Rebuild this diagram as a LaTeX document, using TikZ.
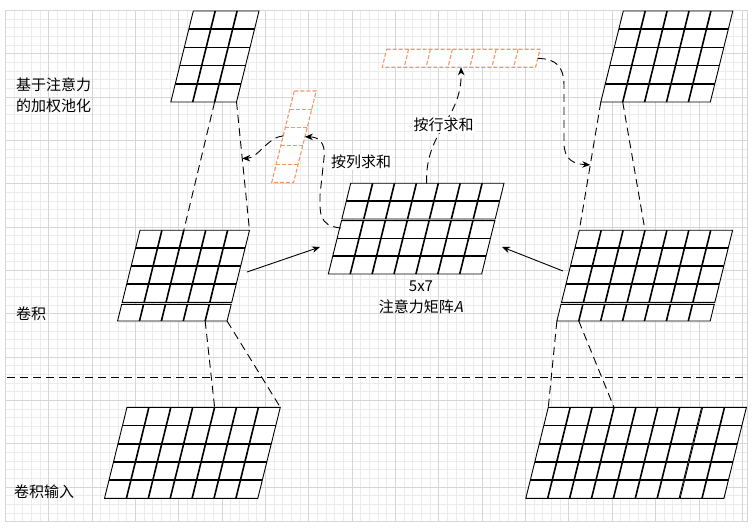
\documentclass[tikz,border=0pt]{standalone}
\usepackage{fontspec}
\setmainfont{Noto Sans CJK SC}
\newfontfamily\slantfont[FakeSlant=0.2]{Noto Sans CJK SC}
\usetikzlibrary{arrows.meta, calc}

\definecolor{gridminor}{RGB}{236,236,236}
\definecolor{gridmajor}{RGB}{214,214,214}
\definecolor{vecorange}{RGB}{245,150,100}

\tikzset{
  matedge/.style={line width=0.9pt},
  matinner/.style={line width=1.6pt},
  vecedge/.style={vecorange, line width=1.1pt, dash pattern=on 4pt off 2pt},
  vecinner/.style={vecedge},
  link/.style={line width=0.9pt, dash pattern=on 8pt off 5pt},
  flow/.style={line width=0.9pt, -{Stealth[length=8pt,width=6.5pt]}},
  lbl/.style={inner sep=0pt, font=\fontsize{15}{21}\selectfont},
}

% #1 look (mat/vec), #2 name, #3,#4 top-left corner, #5 columns, #6 rows, #7 row height
\newcommand{\matgrid}[7][mat]{%
  \begin{scope}[shift={(#3,#4)}, xslant=0.247]
    \fill[white] (0,0) -- (#5*21.9,0) -- (#5*21.9,#6*#7) -- (0,#6*#7) -- cycle;
    \foreach \r in {1,...,#6}{\ifnum\r<#6 \draw[#1inner] (0,\r*#7) -- (#5*21.9,\r*#7);\fi}
    \foreach \c in {0,...,#5}{%
      \ifnum\c>0 \ifnum\c<#5 \draw[#1inner] (\c*21.9,0) -- (\c*21.9,#6*#7);\fi\fi
      \coordinate (#2-t\c) at (\c*21.9,0);
      \coordinate (#2-b\c) at (\c*21.9,#6*#7);}
    \draw[#1edge] (0,0) -- (#5*21.9,0) -- (#5*21.9,#6*#7) -- (0,#6*#7) -- cycle;
  \end{scope}}

\begin{document}
\begin{tikzpicture}[x=1pt, y=-1pt]
  \useasboundingbox (0,0) rectangle (756,532);
  % background grid
  \begin{scope}
    \clip (5.3,10.3) rectangle (747.3,521);
    \foreach \i in {0,...,86} \draw[gridminor, line width=0.8pt] (5.3+\i*8.67,10.3) -- ++(0,511);
    \foreach \j in {0,...,59} \draw[gridminor, line width=0.8pt] (5.3,10.3+\j*8.67) -- ++(742,0);
    \foreach \i in {0,5,...,85} \draw[gridmajor, line width=0.8pt] (5.3+\i*8.67,10.3) -- ++(0,511);
    \foreach \j in {0,5,...,55} \draw[gridmajor, line width=0.8pt] (5.3,10.3+\j*8.67) -- ++(742,0);
  \end{scope}
  \draw[gridmajor, line width=0.8pt] (5.3,10.3) rectangle (747.3,521);

  % matrices
  \matgrid{poolL}{193.3}{11}{3}{5}{18.2}
  \matgrid{poolR}{623.3}{11}{5}{5}{18.2}
  \matgrid{convL}{140}{230.3}{5}{4}{18}
  \matgrid{convLb}{121.7}{304.3}{5}{1}{16.7}
  \matgrid{convR}{579.3}{230.3}{7}{4}{18}
  \matgrid{convRb}{561}{304.3}{7}{1}{16.7}
  \matgrid{attn}{350.7}{183.3}{7}{2}{17.85}
  \matgrid{attnb}{341.5}{220.7}{7}{3}{17.77}
  \matgrid{inL}{127}{407.3}{7}{5}{18.2}
  \matgrid{inR}{548.3}{407.3}{7}{5}{18.2}
  \matgrid{inRb}{702.6}{407.3}{2}{5}{18.2}
  \matgrid[vec]{colsum}{294.3}{91}{1}{5}{18.3}
  \matgrid[vec]{rowsum}{386.7}{49.3}{7}{1}{18}

  % receptive fields
  \draw[link] (poolL-b2) -- (convL-t2);
  \draw[link] (poolL-b3) -- (convL-t5);
  \draw[link] (convLb-b4) -- (inL-t4);
  \draw[link] (convLb-b5) -- (inL-t7);
  \draw[link] (poolR-b0) -- (convR-t0);
  \draw[link] (poolR-b1) -- (convR-t3);
  \draw[link] (convRb-b0) -- (inR-t0);
  \draw[link] (convRb-b1) -- (inR-t3);
  \coordinate (sepL) at (7,377.3);
  \coordinate (sepR) at (746,377.3);
  \draw[link] (sepL) -- (sepR);

  % conv -> attention
  \coordinate (convL-out) at (247,272);
  \coordinate (attn-inL) at (320,247);
  \draw[flow] (convL-out) -- (attn-inL);
  \coordinate (convR-out) at (563,271);
  \coordinate (attn-inR) at (502,247);
  \draw[flow] (convR-out) -- (attn-inR);

  % pooling arrows
  \coordinate (colstart) at (341,228);
  \draw[link, -{Stealth[length=8pt,width=6.5pt]}] (colstart)
    .. controls (318,226) and (320,212) .. (320,195) -- (324,158)
    .. controls (326,142) and (318,137) .. ($(colsum-t1)!0.5!(colsum-b1)$);
  \draw[link, -{Stealth[length=8pt,width=6.5pt]}] ($(colsum-t0)!0.49!(colsum-b0)$)
    .. controls (268,137) and (258,158) .. ($(poolL-b3)!0.44!(convL-t5)$);
  \draw[link, -{Stealth[length=8pt,width=6.5pt]}] ($(rowsum-t7)!0.5!(rowsum-b7)$)
    .. controls (556,59) and (564,66) .. (564,86) -- (564,143)
    .. controls (564,160) and (574,164) .. ($(poolR-b0)!0.49!(convR-t0)$);
  \draw[link, -{Stealth[length=8pt,width=6.5pt]}] ($(attn-t0)!0.495!(attn-t7)$)
    .. controls (425,130) and (462,120) .. node[midway, lbl, fill=white, inner sep=1pt] (rowsumtxt) {按行求和}
    ($(rowsum-b0)!0.514!(rowsum-b7)$);

  % labels
  \node[lbl, anchor=west, align=left] (pooltxt) at (16,95.5) {基于注意力\\的加权池化};
  \node[lbl, anchor=west] (convtxt) at (16,314) {卷积};
  \node[lbl, anchor=west] (inputtxt) at (14,491.7) {卷积输入};
  \node[lbl, align=center] (attntxt) at (421,297.5) {5x7\\注意力矩阵{\slantfont A}};
  \node[lbl, fill=white, inner sep=1pt] (colsumtxt) at (361,162) {按列求和};
\end{tikzpicture}
\end{document}
